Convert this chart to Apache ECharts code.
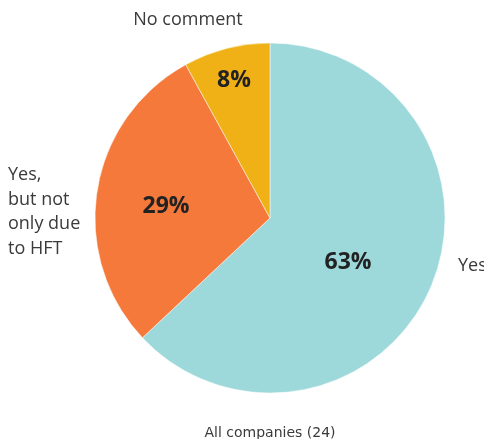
<!DOCTYPE html>
<html>
<head>
<meta charset="utf-8">
<script src="https://cdn.jsdelivr.net/npm/echarts@6/dist/echarts.min.js"></script>
<style>
  html, body { margin: 0; padding: 0; background: #fff; }
  #chart { width: 484px; height: 439px; }
</style>
</head>
<body>
<div id="chart"></div>
<script>
// Survey answers, clockwise from 12 o'clock
const categories = ['Yes', 'Yes,\nbut not\nonly due\nto HFT', 'No comment'];
const shares = [63, 29, 8];
const colors = ['#9dd8da', '#f4793a', '#efb116'];
const footnote = 'All companies (24)';

// Label placement (pixels) for the percentage and the category name of each slice
const pctPos = [[348, 262], [166, 206], [234, 80]];
const namePos = [
  { x: 458, y: 266, align: 'left' },
  { x: 8, y: 212, align: 'left' },
  { x: 188, y: 20, align: 'center' }
];

const CENTER = [270, 218];
const RADIUS = 175;
const textFont = '"Open Sans", "Noto Sans", sans-serif';

const data = categories.map((name, i) => ({
  name: name,
  value: shares[i],
  itemStyle: { color: colors[i] }
}));

const chart = echarts.init(document.getElementById('chart'), null, { renderer: 'canvas' });
chart.setOption({
  animation: false,
  title: {
    text: footnote,
    left: 265,
    top: 421,
    textAlign: 'center',
    textStyle: { fontFamily: '"DejaVu Sans", sans-serif', fontSize: 14, fontWeight: 'normal', color: '#3a3a3a' }
  },
  series: [
    {
      type: 'pie',
      center: CENTER,
      radius: RADIUS,
      startAngle: 90,
      clockwise: true,
      data: data,
      avoidLabelOverlap: false,
      itemStyle: { borderColor: '#ffffff', borderWidth: 0.5 },
      label: {
        position: 'inside',
        formatter: p => p.value + '%',
        fontFamily: textFont,
        fontSize: 23,
        fontWeight: 'bold',
        color: '#222'
      },
      labelLayout: p => ({
        x: pctPos[p.dataIndex][0],
        y: pctPos[p.dataIndex][1],
        align: 'center',
        verticalAlign: 'middle'
      }),
      emphasis: { disabled: true }
    },
    {
      // transparent copy of the pie that carries the category names
      type: 'pie',
      center: CENTER,
      radius: RADIUS,
      startAngle: 90,
      clockwise: true,
      silent: true,
      avoidLabelOverlap: false,
      data: categories.map((name, i) => ({ name: name, value: shares[i] })),
      itemStyle: { color: 'rgba(0,0,0,0)' },
      label: {
        position: 'outside',
        formatter: '{b}',
        overflow: 'none',
        fontFamily: textFont,
        fontSize: 18,
        lineHeight: 24.5,
        color: '#3a3a3a'
      },
      labelLine: { show: false },
      labelLayout: p => ({
        x: namePos[p.dataIndex].x,
        y: namePos[p.dataIndex].y,
        align: namePos[p.dataIndex].align,
        verticalAlign: 'middle'
      }),
      emphasis: { disabled: true }
    }
  ]
});
</script>
</body>
</html>
